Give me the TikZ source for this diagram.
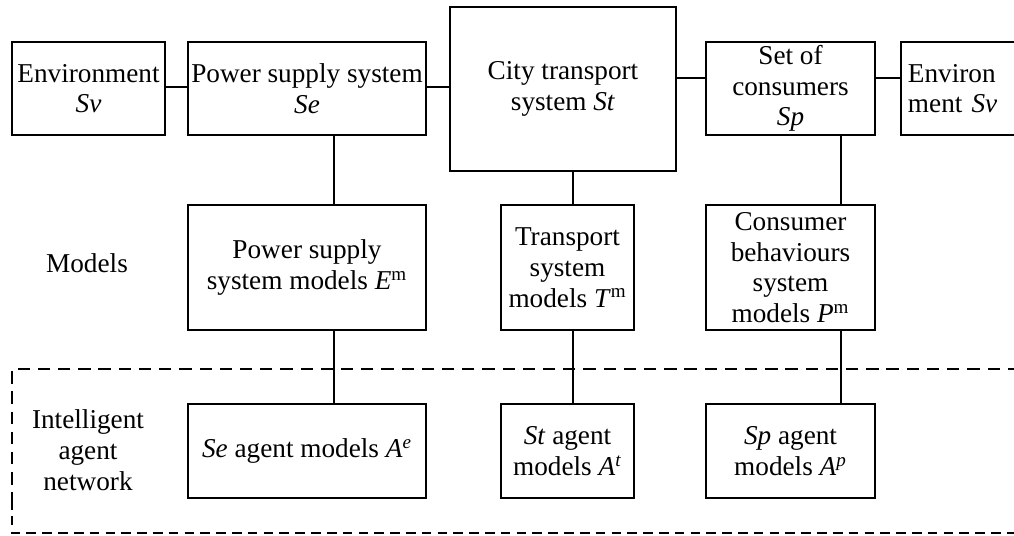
\documentclass[tikz,border=0pt]{standalone}
\usepackage{fontspec}
\setmainfont{Liberation Serif}
\usetikzlibrary{calc}
\begin{document}
\begin{tikzpicture}[x=0.02cm, y=-0.02cm,
  box/.style={draw, line width=1.1pt, align=center, inner sep=2pt},
  link/.style={line width=1.1pt},
  frame/.style={line width=1.6pt, dash pattern=on 7pt off 4.5pt},
  thinframe/.style={line width=1.1pt, dash pattern=on 5.5pt off 3.5pt},
  font=\fontsize{15.5}{17.5}\selectfont]
  \useasboundingbox (0,0) rectangle (1014,536);
\node [box, minimum width=153*0.02cm, minimum height=93*0.02cm] (envl) at (88.5, 88.5) {Environment\\\textit{Sv}};
\node [box, minimum width=238*0.02cm, minimum height=93*0.02cm] (pss) at (307, 88.5) {Power supply system\\\textit{Se}};
\node [box, minimum width=226*0.02cm, minimum height=164*0.02cm] (city) at (563, 89) {City transport\\system \textit{St}};
\node [box, minimum width=169*0.02cm, minimum height=93*0.02cm] (cons) at (790.5, 88.5) {Set of\\consumers\\\textit{Sp}};
\node [box, anchor=west, align=left, text width=2.4cm, inner xsep=0.14cm, minimum height=93*0.02cm] (envr) at (900, 88.5) {Environ\\ment \textit{Sv}};
\node (models) at (87, 263) {Models};
\node [box, minimum width=238*0.02cm, minimum height=125*0.02cm] (pssm) at (307, 267.5) {Power supply\\system models \textit{E}\textsuperscript{m}};
\node [box, minimum width=133*0.02cm, minimum height=125*0.02cm] (tsm) at (567.5, 267.5) {Transport\\system\\models \textit{T}\textsuperscript{m}};
\node [box, minimum width=169*0.02cm, minimum height=125*0.02cm] (cbm) at (790.5, 267.5) {Consumer\\behaviours\\system\\models \textit{P}\textsuperscript{m}};
\node [align=center] (ian) at (88, 450) {Intelligent\\agent\\network};
\node [box, minimum width=238*0.02cm, minimum height=94*0.02cm] (sea) at (307, 451) {\textit{Se} agent models \textit{A}\textsuperscript{\textit{e}}};
\node [box, minimum width=133*0.02cm, minimum height=94*0.02cm] (sta) at (567.5, 451) {\textit{St} agent\\models \textit{A}\textsuperscript{\textit{t}}};
\node [box, minimum width=169*0.02cm, minimum height=94*0.02cm] (spa) at (790.5, 451) {\textit{Sp} agent\\models \textit{A}\textsuperscript{\textit{p}}};
% agent network frame, open to the right
\draw [frame] (1020, 369) -- (12, 369) -- (12, 500);
\draw [thinframe] (12, 500) -- (12, 533) -- (1020, 533);
\draw [link] ([yshift=0.03cm]envl.east) -- ([yshift=0.03cm]pss.west);
\draw [link] ([yshift=0.03cm]pss.east) -- ([yshift=0.04cm]city.west);
\draw [link] ([yshift=0.22cm]city.east) -- ([yshift=0.21cm]cons.west);
\draw [link] ([yshift=0.21cm]cons.east) -- ([yshift=0.21cm]envr.west);
\draw [link] ([xshift=0.54cm]pss.south) -- ([xshift=0.54cm]pssm.north);
\draw [link] ([xshift=0.2cm]city.south) -- ([xshift=0.11cm]tsm.north);
\draw [link] ([xshift=1.01cm]cons.south) -- ([xshift=1.01cm]cbm.north);
\draw [link] ([xshift=0.54cm]pssm.south) -- ([xshift=0.54cm]sea.north);
\draw [link] ([xshift=0.11cm]tsm.south) -- ([xshift=0.11cm]sta.north);
\draw [link] ([xshift=1.01cm]cbm.south) -- ([xshift=1.01cm]spa.north);
\end{tikzpicture}
\end{document}
